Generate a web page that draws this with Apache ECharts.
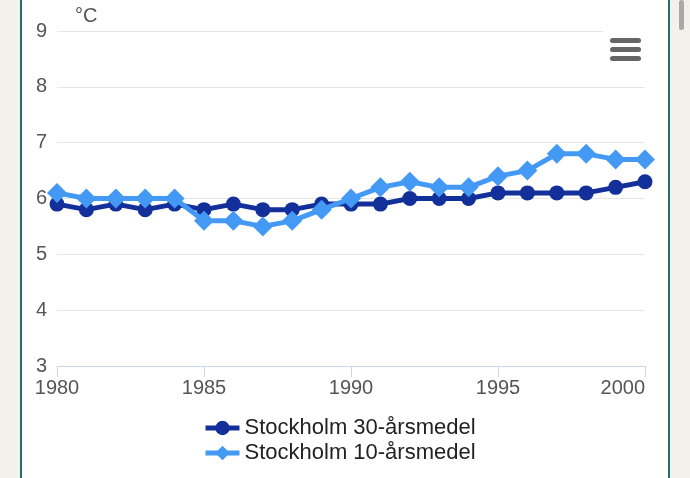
<!DOCTYPE html>
<html>
<head>
    <title>Stockholm medeltemperatur</title>
    <script src="https://cdn.jsdelivr.net/npm/echarts@6/dist/echarts.min.js"></script>
    <style>
        html, body { margin: 0; padding: 0; background: #f2f1ec; }
        #frame {
            position: absolute; left: 20px; top: 0; width: 646px; height: 478px;
            background: #fff; border-left: 2px solid #1f6f6a; border-right: 2px solid #1f6f6a;
        }
        #scroll {
            position: absolute; left: 679px; top: 0; width: 5px; height: 30px;
            background: #a9a9a9; border-radius: 3px;
        }
        #myChart { position: absolute; left: 0; top: 0; width: 690px; height: 478px; }
    </style>
</head>
<body>
    <div id="frame"></div>
    <div id="scroll"></div>
    <div id="myChart"></div>

    <script>
        // years on x axis
        const years = [1980, 1981, 1982, 1983, 1984, 1985, 1986, 1987, 1988, 1989, 1990,
            1991, 1992, 1993, 1994, 1995, 1996, 1997, 1998, 1999, 2000];
        // 30-year running mean
        const mean30 = [5.9, 5.8, 5.9, 5.8, 5.9, 5.8, 5.9, 5.8, 5.8, 5.9, 5.9,
            5.9, 6.0, 6.0, 6.0, 6.1, 6.1, 6.1, 6.1, 6.2, 6.3];
        // 10-year running mean
        const mean10 = [6.1, 6.0, 6.0, 6.0, 6.0, 5.6, 5.6, 5.5, 5.6, 5.8, 6.0,
            6.2, 6.3, 6.2, 6.2, 6.4, 6.5, 6.8, 6.8, 6.7, 6.7];
        const seriesNames = ['Stockholm 30-årsmedel', 'Stockholm 10-årsmedel'];

        const font = '"Liberation Sans", Arial, sans-serif';
        const myChart = echarts.init(document.getElementById('myChart'));

        const option = {
            animation: false,
            grid: { left: 57, right: 45, top: 31, bottom: 112, containLabel: false },
            xAxis: {
                type: 'value',
                min: 1980, max: 2000, interval: 5,
                axisLine: { lineStyle: { color: '#ccd6eb', width: 1 } },
                axisTick: { show: true, length: 11, lineStyle: { color: '#ccd6eb' } },
                axisLabel: {
                    color: '#555', fontSize: 20, fontFamily: font, margin: 12,
                    alignMaxLabel: 'right',
                    formatter: v => String(v)
                },
                splitLine: { show: false }
            },
            yAxis: {
                type: 'value',
                min: 3, max: 9, interval: 1,
                name: '°C',
                nameLocation: 'end',
                nameGap: 5,
                nameTextStyle: { color: '#555', fontSize: 20, fontFamily: font, align: 'left', padding: [0, 0, 0, 18] },
                axisLine: { show: false },
                axisTick: { show: false },
                axisLabel: { color: '#555', fontSize: 20, fontFamily: font, margin: 10 },
                splitLine: { lineStyle: { color: '#e6e6e6', width: 1 } }
            },
            legend: {
                orient: 'vertical',
                left: 198,
                top: 412,
                itemWidth: 34,
                itemHeight: 18,
                itemGap: 3,
                lineStyle: { width: 5 },
                textStyle: { color: '#222', fontSize: 22, fontFamily: font },
                data: seriesNames
            },
            graphic: [
                { type: 'rect', shape: { x: 603, y: 26, width: 45, height: 10 }, style: { fill: '#fff' }, z: 10 },
                { type: 'rect', shape: { x: 610, y: 38, width: 31, height: 5, r: 2.5 }, style: { fill: '#666' }, z: 11 },
                { type: 'rect', shape: { x: 610, y: 47, width: 31, height: 5, r: 2.5 }, style: { fill: '#666' }, z: 11 },
                { type: 'rect', shape: { x: 610, y: 56, width: 31, height: 5, r: 2.5 }, style: { fill: '#666' }, z: 11 }
            ],
            series: [
                {
                    name: seriesNames[0],
                    type: 'line',
                    data: years.map((y, i) => [y, mean30[i]]),
                    symbol: 'circle',
                    symbolSize: 15,
                    lineStyle: { color: '#13309a', width: 5 },
                    itemStyle: { color: '#13309a' },
                    z: 2
                },
                {
                    name: seriesNames[1],
                    type: 'line',
                    data: years.map((y, i) => [y, mean10[i]]),
                    symbol: 'diamond',
                    symbolSize: 20,
                    lineStyle: { color: '#4499f5', width: 5 },
                    itemStyle: { color: '#4499f5' },
                    z: 3
                }
            ]
        };

        myChart.setOption(option);
    </script>
</body>
</html>
